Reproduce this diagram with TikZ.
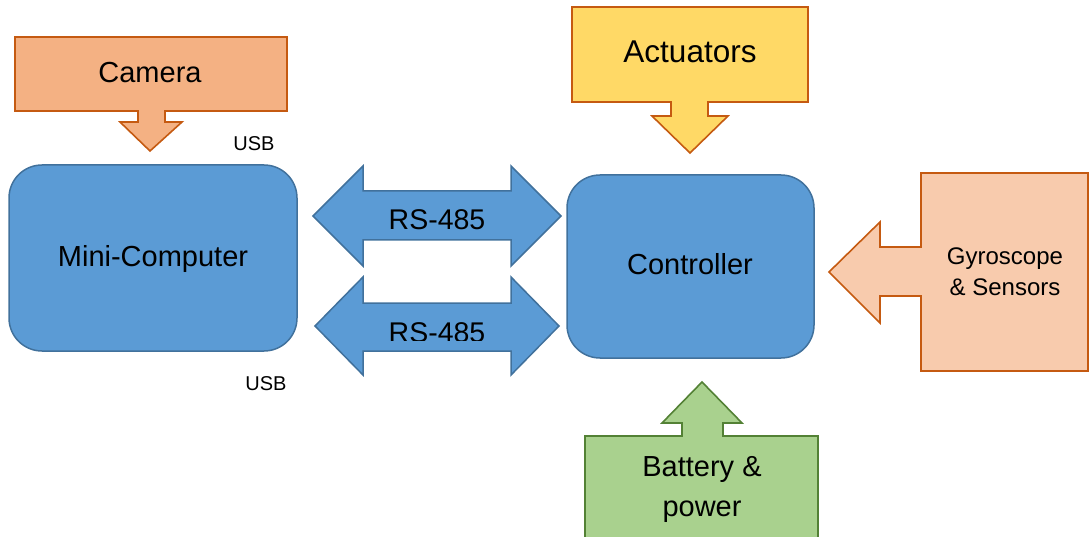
\documentclass[tikz,border=0pt]{standalone}
\usepackage{fontspec}
\setmainfont{Liberation Sans}
\definecolor{bluefill}{HTML}{5B9BD5}
\definecolor{bluedraw}{HTML}{41719C}
\definecolor{camfill}{HTML}{F4B183}
\definecolor{orgdraw}{HTML}{C55A11}
\definecolor{actfill}{HTML}{FFD966}
\definecolor{gyrofill}{HTML}{F8CBAD}
\definecolor{batfill}{HTML}{A9D18E}
\definecolor{batdraw}{HTML}{538135}
\begin{document}
\begin{tikzpicture}[x=1pt,y=-1pt,
  box/.style={fill=bluefill,draw=bluedraw,line width=1.5pt,rounded corners=33pt},
  rsarrow/.style={fill=bluefill,draw=bluedraw,line width=1.5pt,line join=miter},
  callcam/.style={fill=camfill,draw=orgdraw,line width=1.6pt},
  callact/.style={fill=actfill,draw=orgdraw,line width=1.6pt},
  callgyro/.style={fill=gyrofill,draw=orgdraw,line width=1.6pt},
  callbat/.style={fill=batfill,draw=batdraw,line width=1.6pt},
  lbl/.style={anchor=base,inner sep=0pt,font=\fontsize{29}{34}\selectfont},
  small/.style={anchor=base,inner sep=0pt,font=\fontsize{20}{24}\selectfont},
  gyro/.style={anchor=base,inner sep=0pt,font=\fontsize{24}{30}\selectfont}]
\useasboundingbox (0,0) rectangle (1089,537);
% Mini-computer and controller
\draw[box] (9,165) rectangle (297,351);
\node[lbl] (mc) at (153,266) {Mini-Computer};
\draw[box] (567,175) rectangle (814,358);
\node[lbl] (ctl) at (690,275) {Controller};
% RS-485 arrows
\draw[rsarrow] (313,216) -- (363,166) -- (363,191) -- (511,191) -- (511,166) -- (561,216)
  -- (511,266) -- (511,240) -- (363,240) -- (363,266) -- cycle;
\begin{scope}
\clip (363,195) rectangle (511,229.5);
\node[lbl,font=\fontsize{28.5}{34}\selectfont] (rs1) at (437,229.4) {RS-485};
\end{scope}
\draw[rsarrow] (315,326) -- (363,277) -- (363,303) -- (511,303) -- (511,277) -- (559,326)
  -- (511,375) -- (511,351) -- (363,351) -- (363,375) -- cycle;
\begin{scope}
\clip (363,306) rectangle (511,340);
\node[lbl,font=\fontsize{28.5}{34}\selectfont] (rs2) at (437,342.4) {RS-485};
\end{scope}
% Camera callout
\draw[callcam] (15,37) -- (287,37) -- (287,111) -- (165,111) -- (165,122) -- (182,122)
  -- (150,151) -- (120,122) -- (138,122) -- (138,111) -- (15,111) -- cycle;
\node[lbl] (cam) at (150,83) {Camera};
\node[small] (usb1) at (254,151) {USB};
\node[small] (usb2) at (266,390) {USB};
% Actuators callout
\draw[callact] (572,7) -- (808,7) -- (808,102) -- (708,102) -- (708,116) -- (728,116)
  -- (690,153) -- (652,116) -- (671,116) -- (671,102) -- (572,102) -- cycle;
\node[lbl,font=\fontsize{31.5}{36}\selectfont] (act) at (690,63) {Actuators};
% Gyroscope callout
\draw[callgyro] (921,173) -- (1088,173) -- (1088,371) -- (921,371) -- (921,296) -- (880,296)
  -- (880,323) -- (829,272) -- (880,222) -- (880,247) -- (921,247) -- cycle;
\node[gyro] (gy1) at (1005,265) {Gyroscope};
\node[gyro] (gy2) at (1005,295) {\& Sensors};
% Battery callout
\draw[callbat] (585,545) -- (585,436) -- (682,436) -- (682,423) -- (662,423) -- (702,382)
  -- (742,423) -- (723,423) -- (723,436) -- (818,436) -- (818,545);
\node[lbl] (bat1) at (702,476) {Battery \&};
\node[lbl] (bat2) at (702,516) {power};
\end{tikzpicture}
\end{document}
